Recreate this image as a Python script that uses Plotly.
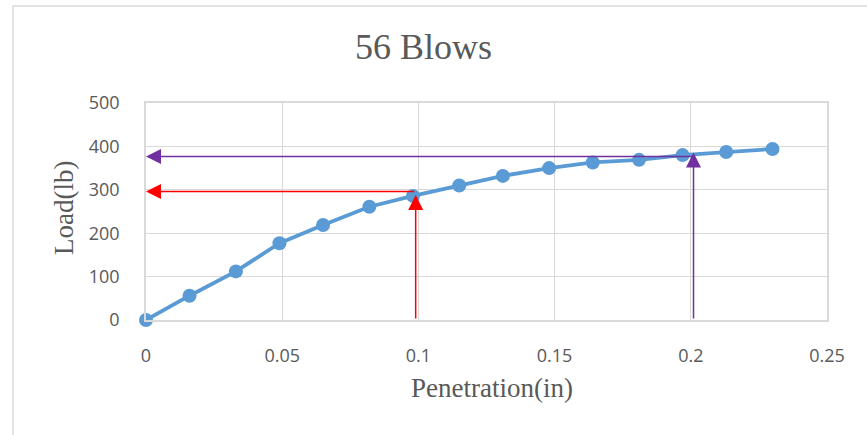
import plotly.graph_objects as go

# ---- data ----
penetration = [0, 0.016, 0.033, 0.049, 0.065, 0.082, 0.098, 0.115, 0.131, 0.148,
               0.164, 0.181, 0.197, 0.213, 0.230]
load = [0, 56, 112, 177, 219, 261, 286, 310, 332, 350, 363, 369, 380, 387, 394]

x_ticks = [0, 0.05, 0.1, 0.15, 0.2, 0.25]
x_tick_labels = ["0", "0.05", "0.1", "0.15", "0.2", "0.25"]
y_ticks = [0, 100, 200, 300, 400, 500]

# reading arrows (penetration of reading, load at arrow tip on curve, load read on axis)
read_pen = [0.099, 0.201]
read_tip_load = [288, 386]
read_axis_load = [296, 377]
read_colors = ["#ff0000", "#7030a0"]

title_text = "56 Blows"
x_title = "Penetration(in)"
y_title = "Load(lb)"

# ---- figure ----
W, H = 867, 435
L, R, T, B = 146, 40, 103, 115
pw, ph = W - L - R, H - T - B

def px2paper_x(px):
    return (px - L) / pw

def py2paper_y(py):
    return (H - B - py) / ph

fig = go.Figure()
fig.add_trace(go.Scatter(
    x=penetration, y=load, mode="lines+markers",
    line=dict(color="#5b9bd5", width=3.8),
    marker=dict(color="#5b9bd5", size=14),
    cliponaxis=False,
    showlegend=False, hoverinfo="skip"))

annotations = []
for px_, tip, axl, col in zip(read_pen, read_tip_load, read_axis_load, read_colors):
    # vertical arrow from x-axis up to the curve
    annotations.append(dict(x=px_, y=tip, ax=px_, ay=0, xref="x", yref="y",
                            axref="x", ayref="y", text="", showarrow=True,
                            arrowhead=2, arrowsize=2, arrowwidth=1.5,
                            arrowcolor=col, standoff=0))
    # horizontal arrow from curve to the y-axis
    annotations.append(dict(x=0, y=axl, ax=px_, ay=axl, xref="x", yref="y",
                            axref="x", ayref="y", text="", showarrow=True,
                            arrowhead=2, arrowsize=2, arrowwidth=1.5,
                            arrowcolor=col, standoff=0))

serif = "Liberation Serif, Times New Roman, serif"
annotations.append(dict(text=title_text, xref="paper", yref="paper",
                        x=px2paper_x(423.5), y=py2paper_y(47), xanchor="center",
                        yanchor="middle", showarrow=False,
                        font=dict(family=serif, size=36, color="#595959")))
annotations.append(dict(text=x_title, xref="paper", yref="paper",
                        x=px2paper_x(492), y=py2paper_y(388), xanchor="center",
                        yanchor="middle", showarrow=False,
                        font=dict(family=serif, size=27, color="#595959")))
annotations.append(dict(text=y_title, xref="paper", yref="paper",
                        x=px2paper_x(64), y=py2paper_y(208), xanchor="center",
                        yanchor="middle", showarrow=False, textangle=-90,
                        font=dict(family=serif, size=27, color="#595959")))

grid = "#d9d9d9"
tickfont = dict(family="Open Sans, Liberation Sans, sans-serif", size=18, color="#595959")

fig.update_layout(
    width=W, height=H,
    margin=dict(l=L, r=R, t=T, b=B, pad=0),
    paper_bgcolor="white", plot_bgcolor="white",
    annotations=annotations,
    shapes=[dict(type="rect", xref="paper", yref="paper",
                 x0=px2paper_x(13), x1=px2paper_x(880),
                 y0=py2paper_y(450), y1=py2paper_y(6),
                 line=dict(color="#d9d9d9", width=1.5), layer="below")],
    xaxis=dict(range=[0, 0.25], tickvals=x_ticks, ticktext=x_tick_labels,
               showgrid=True, gridcolor=grid, gridwidth=1,
               zeroline=False, showline=True, mirror=True, linecolor=grid, linewidth=1.5,
               ticks="outside", ticklen=19, tickcolor="rgba(0,0,0,0)",
               tickfont=tickfont, fixedrange=True),
    yaxis=dict(range=[0, 500], tickvals=y_ticks,
               showgrid=True, gridcolor=grid, gridwidth=1,
               zeroline=False, showline=True, mirror=True, linecolor=grid, linewidth=1.5,
               ticks="outside", ticklen=21, tickcolor="rgba(0,0,0,0)",
               tickfont=tickfont, fixedrange=True),
)

fig.write_html("out.html")
